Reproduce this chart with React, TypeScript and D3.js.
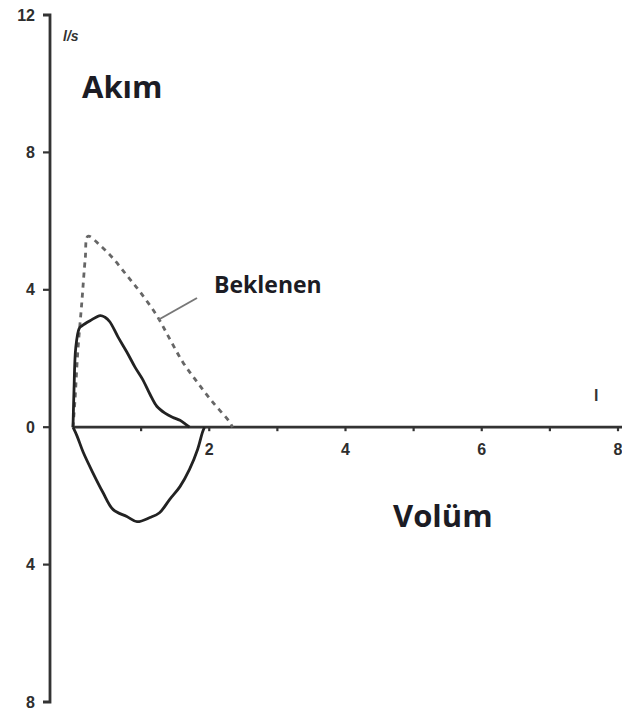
import React from "react";
import * as d3 from "d3";

// Flow–volume loop (volume in litres, flow in l/s)
const expVolume = [0, 0.015, 0.04, 0.09, 0.13, 0.25, 0.4, 0.47, 0.54, 0.66, 0.79, 0.91, 1.02, 1.13, 1.23, 1.35, 1.46, 1.57, 1.65, 1.71];
const expFlow = [0, 1.1, 2.3, 2.87, 2.95, 3.1, 3.25, 3.2, 3.07, 2.63, 2.19, 1.75, 1.4, 0.96, 0.61, 0.41, 0.29, 0.2, 0.09, 0];

const insVolume = [0, 0.06, 0.15, 0.29, 0.44, 0.59, 0.79, 0.94, 1.13, 1.27, 1.42, 1.57, 1.71, 1.83, 1.9, 1.93];
const insFlow = [0, -0.26, -0.73, -1.32, -1.9, -2.4, -2.6, -2.75, -2.63, -2.49, -2.1, -1.73, -1.23, -0.64, -0.15, 0];

const predVolume = [0, 0.03, 0.07, 0.13, 0.18, 0.22, 0.4, 0.59, 0.79, 0.98, 1.23, 1.42, 1.61, 1.82, 2.05, 2.3, 2.34];
const predFlow = [0, 0.82, 2.19, 3.65, 4.91, 5.56, 5.29, 4.91, 4.42, 3.95, 3.25, 2.57, 1.9, 1.32, 0.73, 0.15, 0];

const yTicks = [-8, -4, 0, 4, 8, 12];
const xTicks = [1, 2, 3, 4, 5, 6, 7, 8];
const xLabelTicks = [2, 4, 6, 8];

const W = 622;
const H = 718;

const x = d3.scaleLinear().domain([0, 8]).range([73, 618]);
const y = d3.scaleLinear().domain([-8, 12]).range([702, 15]);
const yAxisX = 50;

const line = d3
  .line<[number, number]>()
  .x((d) => x(d[0]))
  .y((d) => y(d[1]))
  .curve(d3.curveCatmullRom.alpha(0.5));

const zip = (a: number[], b: number[]) => a.map((v, i) => [v, b[i]] as [number, number]);

export default function App() {
  const axisColor = "#333";
  const tickFont = "'Liberation Sans', Arial, sans-serif";
  const labelFont = "'Open Sans', 'Noto Sans', sans-serif";
  return (
    <svg
      width={W}
      height={H}
      style={{ position: "absolute", left: 0, top: 0, background: "#fff" }}
    >
      {/* vertical flow axis with end hooks */}
      <path
        d={`M${yAxisX - 7},${y(12)}H${yAxisX}V${y(-8)}H${yAxisX - 7}`}
        fill="none"
        stroke={axisColor}
        strokeWidth={2.8}
      />
      {yTicks.slice(1, -1).map((t) => (
        <line key={t} x1={yAxisX - 7} x2={yAxisX} y1={y(t)} y2={y(t)} stroke={axisColor} strokeWidth={2.2} />
      ))}
      {yTicks.map((t) => (
        <text
          key={t}
          x={yAxisX - 15}
          y={y(t)}
          dy="0.35em"
          textAnchor="end"
          fontFamily={tickFont}
          fontWeight="bold"
          fontSize={16}
          fill="#2e2e2e"
        >
          {Math.abs(t)}
        </text>
      ))}

      {/* horizontal volume axis */}
      <line x1={x(0)} x2={W} y1={y(0)} y2={y(0)} stroke={axisColor} strokeWidth={2.8} />
      {xTicks.map((t) => (
        <line key={t} x1={x(t)} x2={x(t)} y1={y(0)} y2={y(0) + 4} stroke={axisColor} strokeWidth={2.2} />
      ))}
      {xLabelTicks.map((t) => (
        <text
          key={t}
          x={x(t)}
          y={y(0) + 22}
          dy="0.35em"
          textAnchor="middle"
          fontFamily={tickFont}
          fontWeight="bold"
          fontSize={16}
          fill="#2e2e2e"
        >
          {t}
        </text>
      ))}

      {/* predicted curve */}
      <path
        d={line(zip(predVolume, predFlow)) ?? ""}
        fill="none"
        stroke="#666"
        strokeWidth={2.8}
        strokeDasharray="5 5"
      />
      {/* measured expiration and inspiration */}
      <path d={line(zip(expVolume, expFlow)) ?? ""} fill="none" stroke="#222" strokeWidth={2.8} />
      <path d={line(zip(insVolume, insFlow)) ?? ""} fill="none" stroke="#222" strokeWidth={2.8} />

      {/* leader to predicted curve */}
      <line x1={158} y1={320} x2={197} y2={298} stroke="#777" strokeWidth={2} />

      <text x={63} y={41} fontFamily={tickFont} fontStyle="italic" fontWeight="bold" fontSize={14} fill="#333">
        l/s
      </text>
      <text x={594} y={401} fontFamily={tickFont} fontWeight="bold" fontSize={16} fill="#333">
        l
      </text>
      <text x={82} y={98} fontFamily={labelFont} fontWeight="bold" fontSize={31} fill="#1c1c24">
        Akım
      </text>
      <text x={214} y={293} fontFamily={labelFont} fontWeight="bold" fontSize={23} fill="#1c1c24">
        Beklenen
      </text>
      <text x={393} y={527} fontFamily={labelFont} fontWeight="bold" fontSize={31} fill="#1c1c24">
        Volüm
      </text>
    </svg>
  );
}
